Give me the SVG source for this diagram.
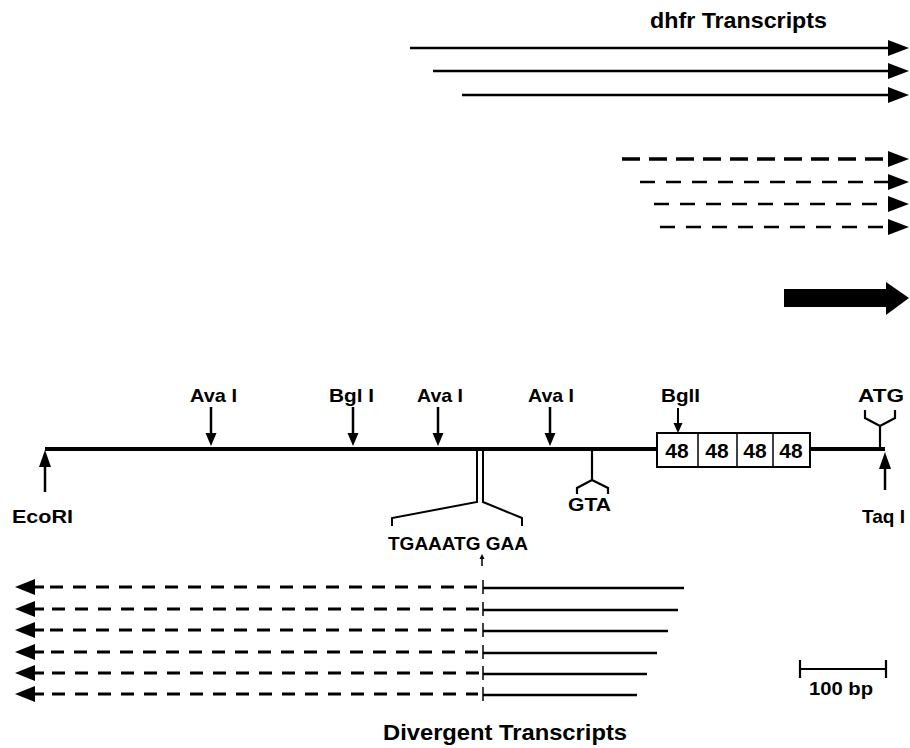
<svg xmlns="http://www.w3.org/2000/svg" width="910" height="748" viewBox="0 0 910 748">
<style>
text{font-family:"Liberation Sans",Arial,sans-serif;font-weight:bold;fill:#000}
.lbl{font-size:19px}
.ttl{font-size:22px}
.num{font-size:21px}
.s{stroke:#000;fill:none}
.solid{stroke:#000;stroke-width:2.4;fill:none}
.dashA{stroke:#000;stroke-width:3.6;stroke-dasharray:18 9;fill:none}
.dashB{stroke:#000;stroke-width:2.6;stroke-dasharray:15 11;fill:none}
.dashC{stroke:#000;stroke-width:3;stroke-dasharray:13 10;fill:none}
.main{stroke:#000;stroke-width:4;fill:none}
.f{fill:#000}
</style>
<defs>
<path id="headR" d="M-21,-8 L0,0 L-21,8 Z"/>
<path id="headL" d="M20,-8 L0,0 L20,8 Z"/>
<path id="headD" d="M-5.5,-13 L5.5,-13 L0,0 Z"/>
<path id="headU" d="M-6,17 L6,17 L0,0 Z"/>
</defs>

<g id="dhfr-transcripts">
<text class="ttl" x="650" y="28" textLength="177" lengthAdjust="spacingAndGlyphs">dhfr Transcripts</text>
<line class="solid" x1="410" y1="48" x2="900" y2="48"/><use href="#headR" x="909" y="48"/>
<line class="solid" x1="433" y1="71" x2="900" y2="71"/><use href="#headR" x="909" y="71"/>
<line class="solid" x1="462" y1="95" x2="900" y2="95"/><use href="#headR" x="909" y="95"/>
<line class="dashA" x1="622" y1="159" x2="900" y2="159"/><use href="#headR" x="909" y="159"/>
<line class="dashB" x1="640" y1="182" x2="900" y2="182"/><use href="#headR" x="909" y="182"/>
<line class="dashB" x1="654" y1="204" x2="900" y2="204"/><use href="#headR" x="909" y="204"/>
<line class="dashB" x1="660" y1="227" x2="900" y2="227"/><use href="#headR" x="909" y="227"/>
</g>

<g id="big-arrow">
<path class="f" d="M784,289 L886,289 L886,282 L909,298 L886,315 L886,307 L784,307 Z"/>
</g>

<g id="map">
<line class="main" x1="45" y1="449" x2="657" y2="449"/>
<line class="main" x1="810" y1="449" x2="885" y2="449"/>
</g>

<g id="box48">
<rect x="657" y="433" width="153" height="34" fill="#fff" stroke="#000" stroke-width="2"/>
<line class="s" stroke-width="1.5" x1="698" y1="433" x2="698" y2="467"/>
<line class="s" stroke-width="1.5" x1="737" y1="433" x2="737" y2="467"/>
<line class="s" stroke-width="1.5" x1="773" y1="433" x2="773" y2="467"/>
<text class="num" x="677" y="458" text-anchor="middle">48</text>
<text class="num" x="717" y="458" text-anchor="middle">48</text>
<text class="num" x="755" y="458" text-anchor="middle">48</text>
<text class="num" x="791" y="458" text-anchor="middle">48</text>
</g>

<g id="site-ecori">
<line class="s" stroke-width="2.5" x1="45" y1="465" x2="45" y2="492"/><use href="#headU" x="45" y="450"/>
<text class="lbl" x="12" y="523" textLength="61" lengthAdjust="spacingAndGlyphs">EcoRI</text>
</g>
<g id="site-ava1">
<text class="lbl" x="190" y="402" textLength="47" lengthAdjust="spacingAndGlyphs">Ava I</text>
<line class="s" stroke-width="2.5" x1="211" y1="407" x2="211" y2="435"/><use href="#headD" x="211" y="446"/>
</g>
<g id="site-bgl1">
<text class="lbl" x="329" y="402" textLength="45" lengthAdjust="spacingAndGlyphs">Bgl I</text>
<line class="s" stroke-width="2.5" x1="353" y1="407" x2="353" y2="435"/><use href="#headD" x="353" y="446"/>
</g>
<g id="site-ava2">
<text class="lbl" x="417" y="402" textLength="46" lengthAdjust="spacingAndGlyphs">Ava I</text>
<line class="s" stroke-width="2.5" x1="438" y1="407" x2="438" y2="435"/><use href="#headD" x="438" y="446"/>
</g>
<g id="site-ava3">
<text class="lbl" x="528" y="402" textLength="46" lengthAdjust="spacingAndGlyphs">Ava I</text>
<line class="s" stroke-width="2.5" x1="550" y1="407" x2="550" y2="435"/><use href="#headD" x="550" y="446"/>
</g>
<g id="site-bgl2">
<text class="lbl" x="661" y="402" textLength="39" lengthAdjust="spacingAndGlyphs">BglI</text>
<line class="s" stroke-width="2" x1="678" y1="408" x2="678" y2="424"/>
<path class="f" d="M673.5,423 L682.5,423 L678,433 Z"/>
</g>
<g id="site-atg">
<text class="lbl" x="858" y="402" textLength="46" lengthAdjust="spacingAndGlyphs">ATG</text>
<path class="s" stroke-width="2.2" d="M865,410 L865,418 L880,426 L895,418 L895,410 M880,426 L880,449"/>
</g>
<g id="site-taqi">
<line class="s" stroke-width="2.5" x1="885" y1="468" x2="885" y2="490"/><use href="#headU" x="885" y="452"/>
<text class="lbl" x="862" y="523" textLength="43" lengthAdjust="spacingAndGlyphs">Taq I</text>
</g>
<g id="site-gta">
<path class="s" stroke-width="2.2" d="M592,449 L592,480 M577,494 L577,488 L592,480 L608,488 L608,494"/>
<text class="lbl" x="568" y="511" textLength="43" lengthAdjust="spacingAndGlyphs">GTA</text>
</g>
<g id="start-site">
<path class="s" stroke-width="2" d="M477,449 L477,502 L392,518 L392,526 M483,449 L483,502 L522,518 L522,526"/>
<text class="lbl" x="388" y="550" textLength="140" lengthAdjust="spacingAndGlyphs">TGAAATG GAA</text>
<line class="s" stroke-width="1.5" x1="482" y1="558" x2="482" y2="566"/>
<path class="f" d="M479.5,559 L484.5,559 L482,554 Z"/>
</g>

<g id="divergent-transcripts">
<g>
<path class="s" stroke-width="3" d="M30,587 L44,587"/><use href="#headL" x="15" y="587"/>
<line class="dashC" x1="50" y1="587" x2="478" y2="587"/>
<line class="s" stroke-width="1.5" x1="483" y1="580" x2="483" y2="594"/>
<line class="solid" x1="483" y1="588" x2="684" y2="588"/>
</g>
<g>
<path class="s" stroke-width="3" d="M30,609 L44,609"/><use href="#headL" x="15" y="609"/>
<line class="dashC" x1="52" y1="609" x2="483" y2="609"/>
<line class="s" stroke-width="1.5" x1="483" y1="602" x2="483" y2="616"/>
<line class="solid" x1="483" y1="610" x2="678" y2="610"/>
</g>
<g>
<path class="s" stroke-width="3" d="M30,630 L44,630"/><use href="#headL" x="15" y="630"/>
<line class="dashC" x1="50" y1="630" x2="480" y2="630"/>
<line class="s" stroke-width="1.5" x1="483" y1="623" x2="483" y2="637"/>
<line class="solid" x1="483" y1="631" x2="668" y2="631"/>
</g>
<g>
<path class="s" stroke-width="3" d="M30,652 L44,652"/><use href="#headL" x="15" y="652"/>
<line class="dashC" x1="51" y1="652" x2="481" y2="652"/>
<line class="s" stroke-width="1.5" x1="483" y1="645" x2="483" y2="659"/>
<line class="solid" x1="483" y1="653" x2="657" y2="653"/>
</g>
<g>
<path class="s" stroke-width="3" d="M30,673 L44,673"/><use href="#headL" x="15" y="673"/>
<line class="dashC" x1="52" y1="673" x2="481" y2="673"/>
<line class="s" stroke-width="1.5" x1="483" y1="666" x2="483" y2="680"/>
<line class="solid" x1="483" y1="674" x2="647" y2="674"/>
</g>
<g>
<path class="s" stroke-width="3" d="M30,694 L44,694"/><use href="#headL" x="15" y="694"/>
<line class="dashC" x1="52" y1="694" x2="478" y2="694"/>
<line class="s" stroke-width="1.5" x1="483" y1="687" x2="483" y2="701"/>
<line class="solid" x1="483" y1="695" x2="637" y2="695"/>
</g>
<text class="ttl" x="383" y="740" textLength="244" lengthAdjust="spacingAndGlyphs">Divergent Transcripts</text>
</g>

<g id="scale-bar">
<path class="s" stroke-width="2.2" d="M800,660 L800,678 M886,660 L886,678 M800,669 L886,669"/>
<text class="lbl" x="809" y="695" textLength="64" lengthAdjust="spacingAndGlyphs">100 bp</text>
</g>
</svg>
